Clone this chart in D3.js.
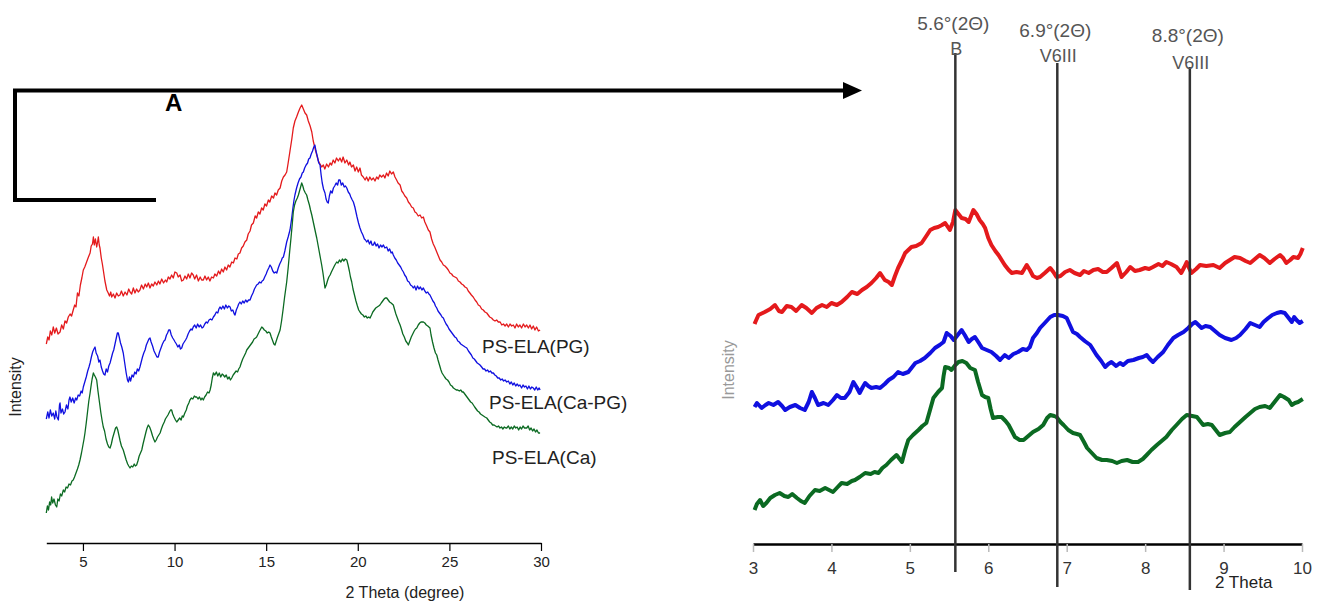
<!DOCTYPE html>
<html>
<head>
<meta charset="utf-8">
<script src="https://cdnjs.cloudflare.com/ajax/libs/d3/7.8.5/d3.min.js"></script>
<style>
  body { margin: 0; background: #fff; }
  svg { display: block; font-family: "Liberation Sans", Arial, sans-serif; }
</style>
</head>
<body>
<script>
// ---- left panel: full scans, 3-30 deg ----
var leftTicks = [5, 10, 15, 20, 25, 30];
var leftNames = ["PS-ELA(PG)", "PS-ELA(Ca-PG)", "PS-ELA(Ca)"];

var leftPG = [[3.0,199],[3.08,206],[3.15,203],[3.22,212],[3.3,208],[3.38,216],[3.46,210],[3.55,215],[3.64,209],[3.75,211],[3.84,218],[3.93,214],[4.02,222],[4.11,220],[4.2,226],[4.3,229],[4.38,227],[4.47,233],[4.55,238],[4.62,236],[4.7,250],[4.78,247],[4.86,258],[4.94,265],[5.02,273],[5.1,276],[5.2,281],[5.3,286],[5.39,290],[5.45,297],[5.52,299],[5.57,306],[5.62,298],[5.68,304],[5.75,296],[5.8,301],[5.84,306],[5.89,298],[5.93,295],[6.0,285],[6.06,279],[6.11,273],[6.2,262],[6.3,253],[6.38,250],[6.45,247],[6.52,251],[6.57,246],[6.66,249],[6.75,245],[6.84,250],[6.93,247],[7.02,248],[7.1,252],[7.2,247],[7.3,251],[7.4,248],[7.5,254],[7.57,251],[7.66,249],[7.75,255],[7.84,250],[7.93,254],[8.02,251],[8.11,253],[8.2,258],[8.3,254],[8.4,259],[8.48,256],[8.57,260],[8.66,255],[8.75,259],[8.84,257],[8.93,261],[9.03,258],[9.12,262],[9.2,259],[9.3,264],[9.4,260],[9.5,263],[9.57,261],[9.66,266],[9.75,264],[9.84,268],[9.93,265],[10.02,271],[10.12,270],[10.2,266],[10.3,268],[10.39,262],[10.48,263],[10.57,267],[10.66,264],[10.75,269],[10.84,265],[10.93,270],[11.02,268],[11.1,264],[11.2,268],[11.3,262],[11.4,266],[11.48,263],[11.57,263],[11.66,267],[11.75,263],[11.84,266],[11.93,262],[12.02,266],[12.12,265],[12.2,269],[12.3,267],[12.4,272],[12.48,269],[12.57,274],[12.66,271],[12.75,276],[12.84,273],[12.93,278],[13.02,276],[13.12,281],[13.21,280],[13.3,285],[13.4,284],[13.48,289],[13.57,290],[13.66,295],[13.75,297],[13.84,301],[13.94,303],[14.02,309],[14.12,312],[14.2,318],[14.3,320],[14.4,327],[14.48,325],[14.57,331],[14.66,329],[14.75,335],[14.84,333],[14.93,339],[15.02,337],[15.12,343],[15.2,341],[15.3,347],[15.4,345],[15.48,350],[15.57,348],[15.66,353],[15.76,355],[15.85,362],[15.94,366],[16.03,368],[16.12,371],[16.2,380],[16.3,392],[16.4,404],[16.48,415],[16.57,422],[16.66,426],[16.76,431],[16.85,435],[16.94,438],[17.03,434],[17.12,430],[17.21,428],[17.3,422],[17.4,417],[17.49,411],[17.57,402],[17.66,395],[17.76,388],[17.85,382],[17.94,379],[18.03,376],[18.12,378],[18.2,374],[18.3,379],[18.4,376],[18.49,380],[18.57,378],[18.66,383],[18.75,380],[18.84,385],[18.94,382],[19.03,385],[19.12,381],[19.2,386],[19.3,380],[19.4,383],[19.5,378],[19.57,381],[19.66,376],[19.76,378],[19.85,372],[19.94,376],[20.03,371],[20.12,375],[20.2,368],[20.3,366],[20.4,363],[20.48,366],[20.57,362],[20.66,366],[20.75,363],[20.85,365],[20.94,362],[21.03,366],[21.12,364],[21.2,368],[21.3,366],[21.4,368],[21.48,365],[21.57,370],[21.66,367],[21.75,372],[21.84,369],[21.94,371],[22.03,366],[22.12,363],[22.2,360],[22.31,358],[22.4,352],[22.48,350],[22.57,347],[22.67,345],[22.76,341],[22.85,339],[22.94,336],[23.03,335],[23.12,331],[23.2,330],[23.3,327],[23.4,328],[23.49,325],[23.58,326],[23.66,321],[23.76,317],[23.85,313],[23.94,311],[24.03,304],[24.12,299],[24.2,296],[24.31,291],[24.4,287],[24.49,283],[24.58,281],[24.67,278],[24.76,277],[24.86,275],[24.94,273],[25.03,270],[25.12,269],[25.2,267],[25.3,266],[25.4,265],[25.49,262],[25.58,261],[25.67,259],[25.76,258],[25.85,256],[25.95,255],[26.03,252],[26.12,250],[26.2,248],[26.3,246],[26.4,243],[26.49,241],[26.58,238],[26.67,237],[26.76,234],[26.85,233],[26.94,231],[27.04,230],[27.12,228],[27.2,226],[27.3,225],[27.4,223],[27.49,222],[27.58,223],[27.67,221],[27.77,221],[27.86,218],[27.95,219],[28.04,217],[28.13,219],[28.22,216],[28.31,219],[28.4,217],[28.49,218],[28.58,215],[28.67,219],[28.76,216],[28.85,218],[28.94,215],[29.04,219],[29.13,216],[29.22,218],[29.31,215],[29.4,218],[29.49,214],[29.58,217],[29.67,213],[29.76,216],[29.86,212],[29.95,213]];

var leftCaPG = [[3.0,124],[3.08,131],[3.15,125],[3.22,133],[3.3,127],[3.38,130],[3.46,124],[3.52,132],[3.58,126],[3.66,123],[3.72,138],[3.75,140],[3.8,130],[3.88,134],[3.95,129],[4.02,131],[4.1,138],[4.18,134],[4.24,143],[4.29,146],[4.36,141],[4.44,145],[4.52,140],[4.6,145],[4.66,143],[4.74,148],[4.82,147],[4.9,152],[4.96,150],[5.02,156],[5.1,161],[5.18,166],[5.26,172],[5.33,176],[5.39,180],[5.46,186],[5.53,191],[5.6,194],[5.66,196],[5.72,190],[5.8,187],[5.87,181],[5.93,183],[6.0,176],[6.07,172],[6.13,169],[6.2,168],[6.27,174],[6.34,171],[6.41,177],[6.48,180],[6.55,185],[6.62,190],[6.68,193],[6.75,199],[6.82,205],[6.88,210],[6.93,210],[6.98,206],[7.05,200],[7.12,196],[7.2,190],[7.28,180],[7.36,170],[7.43,163],[7.48,161],[7.54,166],[7.6,162],[7.68,168],[7.75,166],[7.83,171],[7.9,169],[7.97,174],[8.04,172],[8.11,176],[8.18,181],[8.25,186],[8.32,190],[8.39,193],[8.46,198],[8.53,201],[8.6,204],[8.66,205],[8.72,201],[8.8,197],[8.88,192],[8.96,189],[9.04,186],[9.11,186],[9.18,191],[9.26,195],[9.34,199],[9.42,202],[9.48,203],[9.56,208],[9.62,210],[9.68,213],[9.75,213],[9.82,208],[9.9,205],[9.97,203],[10.03,201],[10.1,199],[10.18,196],[10.26,198],[10.32,194],[10.39,195],[10.46,199],[10.53,201],[10.6,203],[10.66,205],[10.74,209],[10.82,212],[10.9,214],[10.96,213],[11.02,216],[11.1,218],[11.18,215],[11.26,219],[11.34,216],[11.42,218],[11.5,215],[11.57,216],[11.65,219],[11.73,221],[11.8,220],[11.88,223],[11.96,224],[12.04,223],[12.12,226],[12.2,228],[12.28,231],[12.36,230],[12.42,234],[12.48,236],[12.56,234],[12.64,237],[12.72,234],[12.8,238],[12.88,235],[12.96,237],[13.03,236],[13.1,232],[13.18,233],[13.26,229],[13.3,228],[13.37,233],[13.44,236],[13.5,239],[13.57,241],[13.64,239],[13.72,242],[13.8,240],[13.88,243],[13.96,241],[14.04,243],[14.12,243],[14.2,247],[14.28,250],[14.36,254],[14.42,256],[14.48,258],[14.56,259],[14.64,261],[14.72,260],[14.78,262],[14.85,263],[14.92,266],[15.0,269],[15.06,272],[15.14,275],[15.21,278],[15.28,276],[15.36,272],[15.44,270],[15.52,271],[15.58,270],[15.66,275],[15.74,279],[15.82,282],[15.88,285],[15.94,286],[16.02,292],[16.12,301],[16.2,306],[16.3,313],[16.38,323],[16.46,335],[16.52,343],[16.57,348],[16.66,355],[16.74,360],[16.82,364],[16.9,366],[16.97,370],[17.03,371],[17.1,375],[17.18,378],[17.26,380],[17.32,384],[17.39,385],[17.46,389],[17.53,392],[17.6,396],[17.66,398],[17.72,392],[17.8,386],[17.87,380],[17.94,378],[18.0,368],[18.06,360],[18.13,354],[18.21,350],[18.27,344],[18.33,341],[18.39,340],[18.45,347],[18.52,352],[18.6,350],[18.67,355],[18.74,357],[18.82,360],[18.9,358],[18.96,363],[19.03,363],[19.1,358],[19.18,360],[19.26,356],[19.33,357],[19.4,355],[19.48,351],[19.56,349],[19.62,346],[19.7,343],[19.76,341],[19.84,336],[19.9,331],[19.96,326],[20.04,320],[20.12,315],[20.2,311],[20.28,308],[20.36,304],[20.42,303],[20.49,301],[20.56,303],[20.64,299],[20.72,302],[20.78,298],[20.85,298],[20.92,301],[21.0,297],[21.08,299],[21.16,295],[21.24,298],[21.32,296],[21.4,298],[21.48,295],[21.58,296],[21.66,292],[21.74,294],[21.82,290],[21.88,291],[21.94,288],[22.02,285],[22.1,283],[22.18,280],[22.26,278],[22.34,276],[22.42,273],[22.49,271],[22.56,268],[22.64,266],[22.72,262],[22.8,261],[22.88,258],[22.96,257],[23.03,255],[23.1,257],[23.18,253],[23.26,257],[23.34,254],[23.42,256],[23.5,253],[23.58,255],[23.66,252],[23.74,250],[23.82,251],[23.88,249],[23.94,248],[24.02,245],[24.1,242],[24.18,240],[24.24,237],[24.31,235],[24.38,232],[24.46,230],[24.54,228],[24.6,226],[24.67,225],[24.74,222],[24.82,219],[24.9,217],[24.98,214],[25.06,212],[25.14,210],[25.22,208],[25.3,206],[25.38,205],[25.46,202],[25.54,201],[25.62,199],[25.7,198],[25.78,197],[25.86,196],[25.95,195],[26.04,192],[26.12,190],[26.2,188],[26.28,185],[26.36,184],[26.44,182],[26.52,180],[26.6,179],[26.67,178],[26.76,176],[26.84,174],[26.92,174],[27.0,172],[27.08,173],[27.16,171],[27.24,172],[27.32,170],[27.4,170],[27.48,168],[27.56,167],[27.64,165],[27.72,165],[27.8,163],[27.88,164],[27.96,162],[28.04,163],[28.13,161],[28.22,162],[28.3,159],[28.38,161],[28.46,158],[28.54,160],[28.62,157],[28.7,159],[28.78,157],[28.85,158],[28.94,155],[29.02,158],[29.1,156],[29.18,157],[29.26,154],[29.34,157],[29.42,154],[29.5,156],[29.58,155],[29.66,153],[29.74,156],[29.82,153],[29.9,155],[29.95,153]];

var leftCa = [[3.0,30],[3.06,37],[3.12,33],[3.18,41],[3.24,38],[3.29,46],[3.35,40],[3.42,44],[3.5,38],[3.57,36],[3.63,44],[3.7,42],[3.77,49],[3.84,47],[3.93,53],[4.0,51],[4.08,56],[4.16,55],[4.24,59],[4.32,58],[4.4,62],[4.47,63],[4.54,66],[4.62,70],[4.7,74],[4.77,78],[4.84,83],[4.92,90],[5.0,98],[5.06,104],[5.11,110],[5.18,120],[5.25,131],[5.32,142],[5.39,150],[5.45,158],[5.5,164],[5.57,170],[5.62,168],[5.68,166],[5.75,163],[5.82,152],[5.9,141],[5.98,130],[6.05,122],[6.11,116],[6.18,112],[6.26,104],[6.34,99],[6.41,96],[6.48,95],[6.55,99],[6.62,105],[6.7,110],[6.78,115],[6.84,116],[6.9,113],[6.96,108],[7.03,102],[7.1,97],[7.2,93],[7.28,88],[7.36,83],[7.44,79],[7.5,77],[7.57,75],[7.64,77],[7.72,76],[7.8,79],[7.86,77],[7.93,78],[8.0,82],[8.07,87],[8.14,90],[8.21,93],[8.28,99],[8.36,105],[8.44,111],[8.5,115],[8.57,118],[8.64,116],[8.72,112],[8.8,107],[8.86,104],[8.93,101],[9.0,103],[9.07,106],[9.14,108],[9.21,110],[9.28,114],[9.36,118],[9.44,121],[9.5,124],[9.57,126],[9.64,128],[9.72,131],[9.78,133],[9.84,133],[9.9,129],[9.97,126],[10.05,123],[10.12,121],[10.2,123],[10.28,125],[10.36,123],[10.42,127],[10.48,126],[10.56,130],[10.64,133],[10.7,137],[10.78,140],[10.84,143],[10.92,145],[11.0,144],[11.08,147],[11.14,146],[11.21,146],[11.28,144],[11.36,146],[11.44,143],[11.5,145],[11.57,143],[11.64,146],[11.72,148],[11.8,151],[11.88,150],[11.94,153],[12.0,158],[12.06,165],[12.12,170],[12.2,168],[12.28,171],[12.36,167],[12.44,170],[12.52,166],[12.6,169],[12.66,168],[12.74,166],[12.82,168],[12.9,164],[12.98,166],[13.05,163],[13.12,165],[13.2,168],[13.28,170],[13.36,172],[13.44,171],[13.5,174],[13.57,176],[13.64,180],[13.72,184],[13.8,187],[13.88,190],[13.94,193],[14.02,195],[14.1,197],[14.18,199],[14.26,201],[14.34,204],[14.42,205],[14.48,206],[14.56,209],[14.64,212],[14.7,214],[14.76,216],[14.82,215],[14.9,213],[14.98,212],[15.06,210],[15.14,211],[15.21,210],[15.28,206],[15.36,202],[15.42,199],[15.48,198],[15.55,202],[15.62,206],[15.7,210],[15.76,213],[15.84,222],[15.92,233],[16.0,245],[16.06,253],[16.12,261],[16.2,275],[16.28,291],[16.36,306],[16.42,318],[16.48,331],[16.55,338],[16.62,342],[16.7,345],[16.76,348],[16.82,352],[16.88,356],[16.94,360],[17.0,357],[17.06,353],[17.14,350],[17.21,348],[17.28,343],[17.36,338],[17.42,333],[17.49,328],[17.56,322],[17.63,316],[17.7,310],[17.76,305],[17.83,298],[17.9,291],[17.97,284],[18.03,278],[18.1,270],[18.16,262],[18.21,255],[18.28,258],[18.36,263],[18.42,266],[18.49,268],[18.56,271],[18.64,274],[18.72,277],[18.78,279],[18.85,281],[18.92,280],[19.0,283],[19.08,281],[19.16,284],[19.24,282],[19.32,284],[19.4,283],[19.47,278],[19.54,272],[19.6,266],[19.67,261],[19.74,254],[19.82,248],[19.9,242],[19.98,237],[20.05,233],[20.12,231],[20.2,229],[20.28,228],[20.36,226],[20.44,227],[20.52,225],[20.6,226],[20.67,225],[20.75,228],[20.82,231],[20.9,233],[20.98,235],[21.06,236],[21.14,237],[21.21,238],[21.28,240],[21.36,242],[21.44,244],[21.5,245],[21.58,245],[21.66,243],[21.74,241],[21.82,240],[21.88,239],[21.94,238],[22.0,234],[22.08,229],[22.16,225],[22.24,221],[22.31,218],[22.38,214],[22.46,209],[22.54,206],[22.62,202],[22.7,200],[22.76,198],[22.84,202],[22.92,206],[23.0,209],[23.08,212],[23.15,214],[23.22,215],[23.3,218],[23.38,220],[23.45,221],[23.52,221],[23.58,221],[23.66,220],[23.74,218],[23.82,217],[23.88,216],[23.94,215],[24.0,208],[24.08,201],[24.16,195],[24.24,190],[24.31,188],[24.38,183],[24.46,178],[24.54,173],[24.6,170],[24.67,168],[24.74,166],[24.82,164],[24.9,163],[24.98,161],[25.06,158],[25.14,157],[25.22,155],[25.3,154],[25.38,153],[25.46,153],[25.54,152],[25.62,153],[25.7,151],[25.76,151],[25.84,149],[25.92,147],[26.0,145],[26.08,143],[26.16,141],[26.24,140],[26.31,138],[26.38,136],[26.46,134],[26.54,132],[26.62,131],[26.7,129],[26.78,128],[26.86,127],[26.94,126],[27.04,125],[27.12,123],[27.2,121],[27.28,120],[27.36,118],[27.44,118],[27.52,117],[27.6,116],[27.68,117],[27.76,115],[27.84,116],[27.92,114],[28.0,116],[28.08,115],[28.13,115],[28.22,117],[28.3,114],[28.38,116],[28.46,114],[28.54,117],[28.62,115],[28.7,116],[28.78,113],[28.86,116],[28.94,114],[29.02,117],[29.1,115],[29.22,115],[29.3,117],[29.38,113],[29.46,115],[29.54,112],[29.62,114],[29.7,111],[29.78,113],[29.86,110],[29.95,110]];

// ---- right panel: zoom 3-10 deg ----
var rightTicks = [3, 4, 5, 6, 7, 8, 9, 10];
var markerTheta = [5.58, 6.88, 8.57];
var markerAngle = ["5.6°(2Θ)", "6.9°(2Θ)", "8.8°(2Θ)"];
var markerPhase = ["B", "V6III", "V6III"];

var rightPG = [[3.02,220],[3.03,222],[3.07,229],[3.15,232],[3.22,235],[3.28,239],[3.33,233],[3.37,232],[3.43,238],[3.49,237],[3.55,233],[3.62,239],[3.68,236],[3.75,231],[3.81,236],[3.88,239],[3.94,237],[4.0,241],[4.07,239],[4.13,242],[4.2,247],[4.26,252],[4.33,250],[4.39,254],[4.45,257],[4.51,261],[4.57,266],[4.62,271],[4.68,264],[4.73,262],[4.77,259],[4.81,268],[4.85,276],[4.9,284],[4.94,291],[5.02,297],[5.08,298],[5.15,301],[5.21,308],[5.26,314],[5.31,316],[5.36,317],[5.41,319],[5.45,321],[5.51,314],[5.55,322],[5.58,334],[5.62,330],[5.66,326],[5.71,325],[5.75,322],[5.78,328],[5.81,334],[5.85,330],[5.89,324],[5.93,320],[5.96,316],[6.0,306],[6.04,299],[6.09,293],[6.13,289],[6.17,284],[6.21,279],[6.26,274],[6.3,271],[6.36,272],[6.43,271],[6.46,275],[6.49,279],[6.53,274],[6.57,268],[6.62,266],[6.66,267],[6.72,271],[6.79,276],[6.83,272],[6.87,267],[6.92,268],[6.98,272],[7.04,274],[7.1,271],[7.17,269],[7.22,273],[7.28,271],[7.34,274],[7.4,275],[7.46,272],[7.51,272],[7.57,276],[7.64,281],[7.67,274],[7.7,267],[7.76,272],[7.81,277],[7.87,273],[7.93,274],[8.0,276],[8.05,275],[8.1,277],[8.17,280],[8.22,278],[8.27,282],[8.33,280],[8.4,277],[8.46,271],[8.5,277],[8.53,282],[8.56,276],[8.59,271],[8.65,275],[8.7,279],[8.78,278],[8.87,279],[8.95,276],[9.02,281],[9.08,284],[9.14,287],[9.21,286],[9.28,283],[9.34,281],[9.4,285],[9.46,289],[9.52,286],[9.59,281],[9.65,285],[9.72,289],[9.76,286],[9.8,281],[9.85,284],[9.89,287],[9.95,286],[9.98,290],[10.01,296]];

var rightCaPG = [[3.02,137],[3.05,141],[3.11,136],[3.16,139],[3.2,141],[3.26,139],[3.32,142],[3.37,138],[3.41,134],[3.47,137],[3.54,139],[3.6,136],[3.66,134],[3.71,142],[3.75,152],[3.79,146],[3.83,139],[3.9,141],[3.96,139],[4.02,144],[4.07,149],[4.12,146],[4.17,146],[4.23,152],[4.28,162],[4.32,157],[4.36,151],[4.4,157],[4.43,161],[4.47,158],[4.51,156],[4.57,157],[4.62,156],[4.68,160],[4.73,164],[4.79,167],[4.85,172],[4.91,170],[4.98,172],[5.03,177],[5.07,181],[5.13,183],[5.19,186],[5.26,191],[5.32,196],[5.38,199],[5.43,202],[5.47,211],[5.52,208],[5.56,204],[5.61,209],[5.66,214],[5.7,209],[5.75,202],[5.79,205],[5.83,207],[5.88,201],[5.92,196],[5.98,194],[6.04,192],[6.1,188],[6.15,184],[6.21,189],[6.26,186],[6.32,190],[6.38,192],[6.44,195],[6.49,194],[6.53,197],[6.57,206],[6.62,211],[6.66,216],[6.72,221],[6.79,227],[6.84,229],[6.89,229],[6.95,228],[7.0,226],[7.04,219],[7.08,212],[7.13,210],[7.17,207],[7.23,203],[7.3,199],[7.34,194],[7.38,189],[7.44,183],[7.49,177],[7.53,180],[7.57,182],[7.63,178],[7.68,181],[7.72,179],[7.78,183],[7.85,184],[7.92,186],[7.97,187],[8.02,189],[8.06,185],[8.1,182],[8.16,187],[8.23,192],[8.29,199],[8.36,206],[8.42,209],[8.49,212],[8.55,216],[8.6,220],[8.64,222],[8.68,219],[8.72,216],[8.77,218],[8.83,217],[8.89,213],[8.95,209],[9.02,206],[9.1,204],[9.16,206],[9.21,209],[9.28,215],[9.34,221],[9.4,219],[9.46,217],[9.51,222],[9.57,226],[9.62,229],[9.68,231],[9.73,232],[9.78,231],[9.83,226],[9.87,222],[9.9,227],[9.93,224],[9.97,221],[10.01,223]];

var rightCa = [[3.02,34],[3.05,40],[3.09,44],[3.13,38],[3.17,41],[3.22,46],[3.28,49],[3.34,51],[3.4,48],[3.45,47],[3.5,50],[3.56,46],[3.61,43],[3.66,41],[3.72,48],[3.79,54],[3.85,53],[3.92,56],[3.97,54],[4.02,52],[4.08,57],[4.13,61],[4.2,60],[4.26,63],[4.3,64],[4.36,67],[4.43,71],[4.5,70],[4.55,72],[4.6,71],[4.65,76],[4.7,79],[4.76,84],[4.83,89],[4.87,85],[4.9,82],[4.94,94],[4.98,104],[5.04,109],[5.11,114],[5.16,118],[5.21,121],[5.25,132],[5.3,146],[5.36,152],[5.41,156],[5.43,168],[5.45,177],[5.5,176],[5.53,174],[5.58,179],[5.62,182],[5.67,183],[5.72,181],[5.77,176],[5.83,174],[5.87,162],[5.92,149],[5.96,147],[6.0,146],[6.03,135],[6.06,126],[6.12,127],[6.17,127],[6.22,123],[6.26,119],[6.3,113],[6.34,107],[6.4,104],[6.45,104],[6.51,108],[6.57,112],[6.64,115],[6.7,119],[6.75,126],[6.79,129],[6.84,128],[6.87,127],[6.92,122],[6.96,119],[7.02,114],[7.08,111],[7.13,110],[7.17,109],[7.22,102],[7.26,96],[7.32,91],[7.38,86],[7.45,84],[7.51,84],[7.58,83],[7.64,81],[7.7,83],[7.77,84],[7.84,82],[7.91,82],[7.97,85],[8.02,89],[8.08,94],[8.15,99],[8.21,103],[8.27,107],[8.34,114],[8.4,119],[8.47,125],[8.53,129],[8.6,128],[8.66,127],[8.7,123],[8.74,119],[8.8,120],[8.85,119],[8.9,114],[8.95,109],[9.02,111],[9.08,112],[9.14,117],[9.21,122],[9.28,127],[9.34,131],[9.4,135],[9.46,137],[9.53,138],[9.59,136],[9.65,142],[9.72,149],[9.77,147],[9.83,144],[9.87,139],[9.91,141],[9.95,142],[10.01,145]];

var colors = ["#e41a1c", "#1010e0", "#0b6a22"];

const svg = d3.select("body").append("svg")
    .attr("width", 1330)
    .attr("height", 610);

// ---------- left panel ----------
const xL = d3.scaleLinear().domain([3, 30]).range([46.3, 541]);
const yL = d3.scaleLinear().domain([0, 500]).range([543, 43]);
const lineL = d3.line().x(d => xL(d[0])).y(d => yL(d[1]));

const axL = svg.append("g")
    .attr("transform", "translate(0,543)")
    .call(d3.axisBottom(xL).tickValues(leftTicks).tickSize(8).tickPadding(5).tickSizeOuter(0));
axL.select(".domain").attr("stroke", "#000").attr("stroke-width", 1.5);
axL.selectAll(".tick line").attr("stroke", "#000").attr("stroke-width", 1.2);
axL.selectAll(".tick text").attr("font-size", 15).attr("fill", "#222")
    .attr("font-family", "Liberation Sans, Arial, sans-serif");

svg.append("text")
    .attr("x", 405).attr("y", 598)
    .attr("text-anchor", "middle")
    .attr("font-size", 16).attr("fill", "#222")
    .text("2 Theta (degree)");

svg.append("text")
    .attr("transform", "translate(21,387) rotate(-90)")
    .attr("text-anchor", "middle")
    .attr("font-size", 16).attr("fill", "#222")
    .text("Intensity");

[leftPG, leftCaPG, leftCa].forEach((s, i) => {
    svg.append("path")
        .datum(s)
        .attr("fill", "none")
        .attr("stroke", colors[i])
        .attr("stroke-width", 1.3)
        .attr("stroke-linejoin", "round")
        .attr("d", lineL);
});

// series labels sit just after each curve end
var labelPos = [[482, 353], [489, 409], [492, 464]];
svg.selectAll(".lbl")
    .data(leftNames)
    .join("text")
    .attr("x", (d, i) => labelPos[i][0])
    .attr("y", (d, i) => labelPos[i][1])
    .attr("font-size", 19)
    .attr("fill", "#222")
    .text(d => d);

// ---------- bracket / arrow ----------
svg.append("path")
    .attr("d", "M13,90.5 H848 M15,88.5 V201.5 M13,200 H156")
    .attr("fill", "none")
    .attr("stroke", "#000")
    .attr("stroke-width", 4);
svg.append("path")
    .attr("d", "M843,82 L862,90.5 L843,99 Z")
    .attr("fill", "#000");
svg.append("text")
    .attr("x", 165).attr("y", 111)
    .attr("font-size", 24).attr("font-weight", "bold")
    .text("A");

// ---------- right panel ----------
const xR = d3.scaleLinear().domain([3, 10]).range([753, 1302]);
const yR = d3.scaleLinear().domain([0, 500]).range([544, 44]);
const lineR = d3.line().x(d => xR(d[0])).y(d => yR(d[1]));

const axR = svg.append("g")
    .attr("transform", "translate(0,544)")
    .call(d3.axisBottom(xR).tickValues(rightTicks).tickFormat(d3.format("d"))
        .tickSize(8).tickPadding(10).tickSizeOuter(0));
axR.select(".domain").attr("stroke", "#000").attr("stroke-width", 2.5);
axR.selectAll(".tick line").attr("stroke", "#bbb").attr("stroke-width", 1.5);
axR.selectAll(".tick text").attr("font-size", 17).attr("fill", "#333")
    .attr("font-family", "Liberation Sans, Arial, sans-serif");

svg.append("text")
    .attr("x", 1215).attr("y", 588)
    .attr("font-size", 17).attr("fill", "#222")
    .text("2 Theta");

svg.append("text")
    .attr("transform", "translate(734,370) rotate(-90)")
    .attr("text-anchor", "middle")
    .attr("font-size", 16).attr("fill", "#999")
    .text("Intensity");

[rightPG, rightCaPG, rightCa].forEach((s, i) => {
    svg.append("path")
        .datum(s)
        .attr("fill", "none")
        .attr("stroke", colors[i])
        .attr("stroke-width", 4)
        .attr("stroke-linejoin", "round")
        .attr("d", lineR);
});

// reference lines with their annotations
var markerTop = [53, 63, 67], markerBottom = [572, 587, 590];
var angleY = [30, 37, 42], phaseY = [55, 62, 69];

svg.selectAll(".mk")
    .data(markerTheta)
    .join("line")
    .attr("x1", d => xR(d)).attr("x2", d => xR(d))
    .attr("y1", (d, i) => markerTop[i])
    .attr("y2", (d, i) => markerBottom[i])
    .attr("stroke", "#333")
    .attr("stroke-width", 2.5);

svg.selectAll(".ang")
    .data(markerAngle)
    .join("text")
    .attr("x", (d, i) => xR(markerTheta[i]) - 2)
    .attr("y", (d, i) => angleY[i])
    .attr("text-anchor", "middle")
    .attr("font-size", 19).attr("fill", "#555")
    .text(d => d);

svg.selectAll(".ph")
    .data(markerPhase)
    .join("text")
    .attr("x", (d, i) => xR(markerTheta[i]) + 1)
    .attr("y", (d, i) => phaseY[i])
    .attr("text-anchor", "middle")
    .attr("font-size", 18).attr("fill", "#555")
    .text(d => d);
</script>
</body>
</html>
